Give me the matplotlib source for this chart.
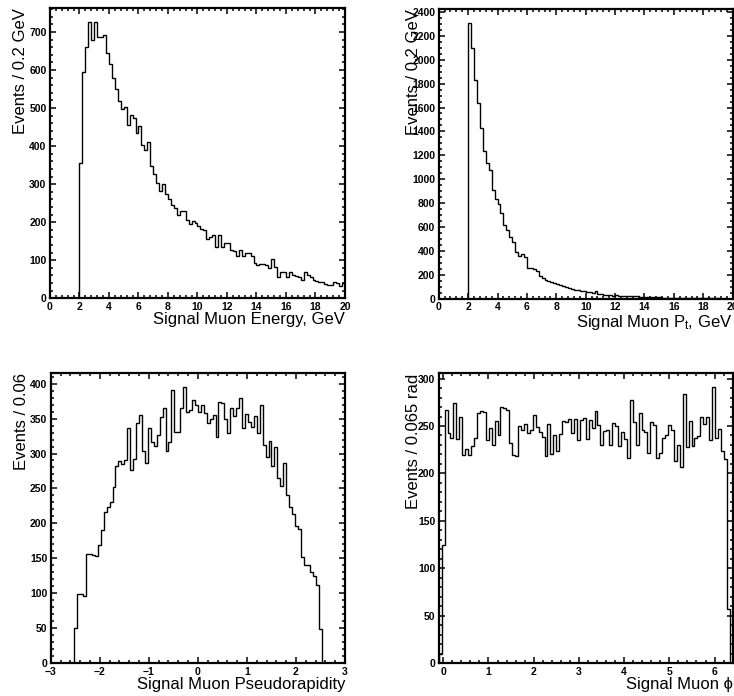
import numpy as np
import matplotlib.pyplot as plt
from matplotlib.ticker import MultipleLocator

plt.rcParams['font.family'] = ['Liberation Sans', 'DejaVu Sans']
plt.rcParams['mathtext.default'] = 'regular'

# --- contenu des histogrammes (100 bins chacun) ---
energy_counts = [0] * 10 + [
    355, 595, 660, 726, 680, 726, 687, 687, 691, 645, 616, 579, 550, 519, 497,
    504, 456, 481, 474, 434, 452, 404, 389, 412, 349, 326, 303, 283, 300, 275,
    261, 246, 237, 219, 230, 230, 206, 196, 204, 197, 190, 182, 180, 156, 160,
    167, 136, 167, 136, 146, 146, 127, 125, 110, 127, 110, 118, 120, 110, 92,
    88, 89, 89, 88, 79, 103, 83, 57, 68, 68, 57, 70, 60, 59, 55, 48, 68, 61,
    57, 48, 46, 44, 44, 38, 35, 35, 44, 39, 33, 39]

pt_counts = [0] * 10 + [
    2305, 2094, 1830, 1639, 1430, 1236, 1139, 1075, 914, 839, 792, 719, 622,
    575, 519, 478, 394, 358, 375, 347,
    262, 256, 250, 236, 192, 178, 158, 150, 144, 131, 122, 114, 108, 97, 89,
    80, 75, 75, 69, 67, 58, 58, 53, 69, 42, 39, 33, 30, 30, 25, 35, 28, 28,
    25, 25, 22, 22, 22, 19, 19, 17, 17, 15, 14, 14, 13, 12, 11, 11, 10, 10,
    9, 9, 8, 8, 8, 7, 8, 6, 7, 6, 6, 5, 6, 5, 5, 4, 5, 4, 4]

eta_counts = [0] * 8 + [
    50, 99, 99, 96, 156, 156, 155, 153, 169, 190, 217, 223, 230, 252, 282,
    289, 285, 290, 336, 277, 292, 344, 355, 303, 286, 336, 317, 311, 327, 352,
    365, 303, 317, 391, 331, 331, 365, 395, 359, 362, 376, 370, 360, 370, 358,
    343, 350, 355, 324, 373, 372, 350, 329, 365, 354, 365, 380, 336, 356, 345,
    338, 354, 330, 369, 312, 295, 318, 282, 310, 265, 253, 287, 241, 224, 214,
    197, 192, 152, 141, 141, 131, 125, 112, 49] + [0] * 8

phi_counts = [
    10, 125, 267, 243, 237, 274, 236, 260, 219, 226, 219, 229, 237, 264, 266,
    265, 235, 248, 230, 255, 241, 270, 269, 267, 232, 219, 218, 250, 246, 252,
    243, 246, 262, 249, 244, 238, 218, 252, 221, 240, 224, 242, 255, 254, 257,
    243, 257, 235, 256, 258, 236, 256, 248, 266, 251, 230, 245, 246, 230, 253,
    250, 229, 244, 236, 216, 277, 254, 230, 264, 246, 244, 222, 254, 251, 216,
    222, 237, 241, 251, 246, 213, 230, 207, 284, 228, 255, 229, 237, 239, 260,
    252, 260, 235, 291, 237, 247, 224, 215, 57, 0]

fig = plt.figure(figsize=(7.34, 6.96), dpi=100)


def histo(rect, counts, lo, hi, xmaj, xmin, ymaj, ymin, xlabel, ylabel, ylab_x):
    ax = fig.add_axes(rect)
    edges = np.linspace(lo, hi, len(counts) + 1)
    ax.stairs(counts, edges, color='black', lw=1.0)
    ax.set_xlim(lo, hi)
    ax.set_ylim(0, 1.05 * max(counts))
    ax.xaxis.set_major_locator(MultipleLocator(xmaj))
    ax.xaxis.set_minor_locator(MultipleLocator(xmin))
    ax.yaxis.set_major_locator(MultipleLocator(ymaj))
    ax.yaxis.set_minor_locator(MultipleLocator(ymin))
    ax.tick_params(which='both', direction='in', top=True, right=True,
                   width=1.1, labelsize=7.5, pad=2.5)
    ax.tick_params(which='major', length=4.5)
    ax.tick_params(which='minor', length=2.2)
    for lab in ax.get_xticklabels() + ax.get_yticklabels():
        lab.set_fontweight('bold')
    for sp in ax.spines.values():
        sp.set_linewidth(1.6)
    ax.set_xlabel(xlabel, fontsize=12, ha='right')
    ax.xaxis.set_label_coords(1.0, -0.048)
    ax.set_ylabel(ylabel, fontsize=12, ha='right')
    ax.yaxis.set_label_coords(ylab_x, 1.0)
    return ax


histo([0.0681, 0.5714, 0.4019, 0.4167], energy_counts, 0, 20, 2, 0.4, 100, 20,
      'Signal Muon Energy, GeV', 'Events / 0.2 GeV', -0.075)
histo([0.5977, 0.5704, 0.4005, 0.4162], pt_counts, 0, 20, 2, 0.4, 200, 50,
      'Signal Muon P$_t$, GeV', 'Events / 0.2 GeV', -0.06)
histo([0.0691, 0.0470, 0.4010, 0.4167], eta_counts, -3, 3, 1, 0.2, 50, 10,
      'Signal Muon Pseudorapidity', 'Events / 0.06', -0.075)
histo([0.5977, 0.0470, 0.4005, 0.4167], phi_counts, -0.1, 6.4, 1, 0.2, 50, 10,
      'Signal Muon \u03d5', 'Events / 0.065 rad', -0.06)

fig.savefig('out.png', dpi=100)
